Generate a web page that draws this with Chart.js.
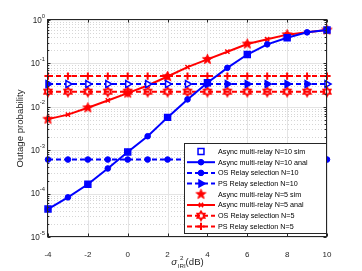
<!DOCTYPE html>
<html>
<head>
<meta charset="utf-8">
<script src="https://cdn.jsdelivr.net/npm/chart.js@4.4.1/dist/chart.umd.min.js"></script>
<style>
  html, body { margin: 0; padding: 0; background: #fff; }
  canvas { display: block; }
</style>
</head>
<body>
<canvas id="chart" width="362" height="271"></canvas>
<script>
// x axis: sigma^2_IRI in dB
const xValues = [-4, -3, -2, -1, 0, 1, 2, 3, 4, 5, 6, 7, 8, 9, 10];
const simX = [-4, -2, 0, 2, 4, 6, 8, 10];
const xTicks = [-4, -2, 0, 2, 4, 6, 8, 10];
const yDecades = [0, -1, -2, -3, -4, -5];

// N = 10
const asyncN10Sim = [4.4e-5, 1.64e-4, 9.1e-4, 5.7e-3, 0.0357, 0.16, 0.39, 0.59];
const asyncN10Anal = [4.4e-5, 8.2e-5, 1.64e-4, 3.8e-4, 9.1e-4, 2.1e-3, 5.7e-3, 0.0148, 0.0357, 0.079, 0.16, 0.275, 0.39, 0.52, 0.59];
const osN10 = [6.1e-4, 6.1e-4, 6.1e-4, 6.1e-4, 6.1e-4, 6.1e-4, 6.1e-4, 6.1e-4, 6.1e-4, 6.1e-4, 6.1e-4, 6.1e-4, 6.1e-4, 6.1e-4, 6.1e-4];
const psN10 = [0.0334, 0.0334, 0.0334, 0.0334, 0.0334, 0.0334, 0.0334, 0.0334, 0.0334, 0.0334, 0.0334, 0.0334, 0.0334, 0.0334, 0.0334];

// N = 5
const asyncN5Sim = [5.2e-3, 9.5e-3, 0.0207, 0.05, 0.124, 0.28, 0.46, 0.59];
const asyncN5Anal = [5.2e-3, 6.6e-3, 9.5e-3, 0.014, 0.0207, 0.031, 0.05, 0.082, 0.124, 0.186, 0.28, 0.36, 0.46, 0.52, 0.59];
const osN5 = [0.0223, 0.0223, 0.0223, 0.0223, 0.0223, 0.0223, 0.0223, 0.0223, 0.0223, 0.0223, 0.0223, 0.0223, 0.0223, 0.0223, 0.0223];
const psN5 = [0.051, 0.051, 0.051, 0.051, 0.051, 0.051, 0.051, 0.051, 0.051, 0.051, 0.051, 0.051, 0.051, 0.051, 0.051];

const FONT = '"Liberation Sans", Arial, sans-serif';
const BLUE = '#0000ff';
const RED = '#ff0000';
const AXIS_INK = '#262626';
const DASH = [5, 3];

function pairs(xs, ys) {
  return xs.map((x, i) => ({ x, y: ys[i] }));
}

// star shaped markers (pentagram / hexagram) as small canvases
function starMarker(points, outer, inner, fill, lineWidth) {
  const size = Math.ceil(outer * 2 + lineWidth * 2);
  const c = document.createElement('canvas');
  c.width = size;
  c.height = size;
  const g = c.getContext('2d');
  g.translate(size / 2, size / 2);
  g.beginPath();
  for (let i = 0; i < points * 2; i++) {
    const r = i % 2 === 0 ? outer : inner;
    const a = -Math.PI / 2 + (i * Math.PI) / points;
    const px = r * Math.cos(a);
    const py = r * Math.sin(a);
    if (i === 0) g.moveTo(px, py);
    else g.lineTo(px, py);
  }
  g.closePath();
  g.lineJoin = 'miter';
  if (fill) {
    g.fillStyle = RED;
    g.fill();
  }
  g.strokeStyle = RED;
  g.lineWidth = lineWidth;
  g.stroke();
  return c;
}

const pentagram = starMarker(5, 5.2, 2.1, true, 1);
const hexagram = starMarker(6, 4.2, 2.5, false, 1.8);

// triangles on the PS N=10 line: some look filled, some open in the reference
const psN10Fill = [BLUE, '#fff', '#fff', '#fff', '#fff', '#fff', '#fff', '#fff', BLUE, BLUE, BLUE, BLUE, BLUE, BLUE, '#fff'];

const datasets = [
  {
    label: 'Async multi-relay N=10 sim',
    data: pairs(simX, asyncN10Sim),
    showLine: false,
    borderColor: BLUE,
    pointStyle: 'rect',
    pointRadius: 4.2,
    pointBorderWidth: 1.5,
    pointBorderColor: BLUE,
    pointBackgroundColor: 'rgba(0,0,0,0)',
  },
  {
    label: 'Async multi-relay N=10 anal',
    data: pairs(xValues, asyncN10Anal),
    borderColor: BLUE,
    borderWidth: 2,
    pointStyle: 'circle',
    pointRadius: 2.8,
    pointBorderWidth: 1,
    pointBorderColor: BLUE,
    pointBackgroundColor: BLUE,
  },
  {
    label: 'OS Relay selection N=10',
    data: pairs(xValues, osN10),
    borderColor: BLUE,
    borderWidth: 2,
    borderDash: DASH,
    pointStyle: 'circle',
    pointRadius: 2.8,
    pointBorderWidth: 1,
    pointBorderColor: BLUE,
    pointBackgroundColor: BLUE,
  },
  {
    label: 'PS Relay selection N=10',
    data: pairs(xValues, psN10),
    borderColor: BLUE,
    borderWidth: 2,
    borderDash: DASH,
    pointStyle: 'triangle',
    pointRotation: 90,
    pointRadius: 4,
    pointBorderWidth: 1.5,
    pointBorderColor: BLUE,
    pointBackgroundColor: psN10Fill,
  },
  {
    label: 'Async multi-relay N=5 sim',
    data: pairs(simX, asyncN5Sim),
    showLine: false,
    borderColor: RED,
    pointStyle: pentagram,
  },
  {
    label: 'Async multi-relay N=5 anal',
    data: pairs(xValues, asyncN5Anal),
    borderColor: RED,
    borderWidth: 2,
    pointStyle: 'crossRot',
    pointRadius: 3,
    pointBorderWidth: 1.5,
    pointBorderColor: RED,
    pointBackgroundColor: RED,
  },
  {
    label: 'OS Relay selection N=5',
    data: pairs(xValues, osN5),
    borderColor: RED,
    borderWidth: 2,
    borderDash: DASH,
    pointStyle: hexagram,
  },
  {
    label: 'PS Relay selection N=5',
    data: pairs(xValues, psN5),
    borderColor: RED,
    borderWidth: 2,
    borderDash: DASH,
    pointStyle: 'cross',
    pointRadius: 3.6,
    pointBorderWidth: 2,
    pointBorderColor: RED,
    pointBackgroundColor: RED,
  },
];

datasets.forEach((ds) => {
  ds.clip = false;
  ds.tension = 0;
  ds.fill = false;
  ds.pointHoverRadius = ds.pointRadius;
});

function crisp(v) {
  return Math.round(v) + 0.5;
}

// MATLAB-like axes: grid, box, ticks, labels and legend
const matlabAxes = {
  id: 'matlabAxes',
  beforeDatasetsDraw(chart) {
    const { ctx, chartArea: a, scales } = chart;
    const xs = scales.x;
    const ys = scales.y;
    ctx.save();
    ctx.fillStyle = '#fff';
    ctx.fillRect(a.left, a.top, a.right - a.left, a.bottom - a.top);
    ctx.lineWidth = 1;

    // minor y grid (dotted)
    ctx.strokeStyle = 'rgba(0,0,0,0.16)';
    ctx.setLineDash([1, 2]);
    yDecades.slice(1).forEach((d) => {
      for (let m = 2; m <= 9; m++) {
        const py = crisp(ys.getPixelForValue(m * Math.pow(10, d)));
        ctx.beginPath();
        ctx.moveTo(a.left, py);
        ctx.lineTo(a.right, py);
        ctx.stroke();
      }
    });

    // major grid
    ctx.setLineDash([]);
    ctx.strokeStyle = '#e4e4e4';
    yDecades.forEach((d) => {
      const py = crisp(ys.getPixelForValue(Math.pow(10, d)));
      ctx.beginPath();
      ctx.moveTo(a.left, py);
      ctx.lineTo(a.right, py);
      ctx.stroke();
    });
    xTicks.forEach((t) => {
      const px = crisp(xs.getPixelForValue(t));
      ctx.beginPath();
      ctx.moveTo(px, a.top);
      ctx.lineTo(px, a.bottom);
      ctx.stroke();
    });
    ctx.restore();
  },

  afterDatasetsDraw(chart) {
    const { ctx, chartArea: a, scales } = chart;
    const xs = scales.x;
    const ys = scales.y;
    ctx.save();
    ctx.strokeStyle = AXIS_INK;
    ctx.lineWidth = 1;

    // box
    const L = crisp(a.left) - 1;
    const R = crisp(a.right) - 1;
    const T = crisp(a.top) - 1;
    const B = crisp(a.bottom) - 1;
    ctx.strokeRect(L, T, R - L, B - T);

    // ticks (inward)
    ctx.beginPath();
    xTicks.forEach((t) => {
      const px = crisp(xs.getPixelForValue(t));
      ctx.moveTo(px, B);
      ctx.lineTo(px, B - 3);
      ctx.moveTo(px, T);
      ctx.lineTo(px, T + 3);
    });
    yDecades.forEach((d) => {
      const py = crisp(ys.getPixelForValue(Math.pow(10, d)));
      ctx.moveTo(L, py);
      ctx.lineTo(L + 3, py);
      ctx.moveTo(R, py);
      ctx.lineTo(R - 3, py);
      if (d === 0) return;
      for (let m = 2; m <= 9; m++) {
        const my = crisp(ys.getPixelForValue(m * Math.pow(10, d)));
        ctx.moveTo(L, my);
        ctx.lineTo(L + 1.8, my);
        ctx.moveTo(R, my);
        ctx.lineTo(R - 1.8, my);
      }
    });
    ctx.stroke();

    drawLegend(chart);
    ctx.restore();
  },

  afterDraw(chart) {
    const { ctx, chartArea: a, scales } = chart;
    const ys = scales.y;
    ctx.save();
    ctx.fillStyle = AXIS_INK;

    // y tick labels 10^d
    ctx.textBaseline = 'middle';
    yDecades.forEach((d) => {
      const py = ys.getPixelForValue(Math.pow(10, d));
      const exp = String(d);
      ctx.font = `5.8px ${FONT}`;
      const ew = ctx.measureText(exp).width;
      const right = a.left - 3;
      ctx.textAlign = 'left';
      ctx.fillText(exp, right - ew, py - 4);
      ctx.font = `8.2px ${FONT}`;
      ctx.textAlign = 'right';
      ctx.fillText('10', right - ew, py + 0.5);
    });

    // y title
    ctx.save();
    ctx.translate(20, (a.top + a.bottom) / 2);
    ctx.rotate(-Math.PI / 2);
    ctx.textAlign = 'center';
    ctx.textBaseline = 'middle';
    ctx.font = `9.6px ${FONT}`;
    ctx.fillText('Outage probability', 0, 0);
    ctx.restore();

    // x title: sigma^2_IRI (dB)
    const parts = [
      { t: '\u03c3', font: `italic 9.8px ${FONT}` },
      { t: '2', font: `6.2px ${FONT}`, dy: -5 },
      { t: 'IRI', font: `6.2px ${FONT}`, dy: 3 },
      { t: '(dB)', font: `9.6px ${FONT}` },
    ];
    const widths = parts.map((p) => {
      ctx.font = p.font;
      return ctx.measureText(p.t).width;
    });
    const total = widths[0] + widths[2] + widths[3] + 0.5;
    let cx = (a.left + a.right) / 2 - total / 2;
    const base = 265;
    ctx.textAlign = 'left';
    ctx.textBaseline = 'alphabetic';
    ctx.font = parts[0].font;
    ctx.fillText(parts[0].t, cx, base);
    cx += widths[0] + 0.5;
    ctx.font = parts[1].font;
    ctx.fillText(parts[1].t, cx + (widths[2] - widths[1]) / 2, base + parts[1].dy);
    ctx.font = parts[2].font;
    ctx.fillText(parts[2].t, cx, base + parts[2].dy);
    cx += widths[2];
    ctx.font = parts[3].font;
    ctx.fillText(parts[3].t, cx, base);
    ctx.restore();
  },
};

function drawLegend(chart) {
  const ctx = chart.ctx;
  const box = { left: 184.5, top: 143.5, right: 326.5, bottom: 233.5 };
  ctx.save();
  ctx.setLineDash([]);
  ctx.fillStyle = '#fff';
  ctx.fillRect(box.left, box.top, box.right - box.left, box.bottom - box.top);
  ctx.strokeStyle = AXIS_INK;
  ctx.lineWidth = 1;
  ctx.strokeRect(box.left, box.top, box.right - box.left, box.bottom - box.top);

  const rowH = 10.7;
  chart.data.datasets.forEach((ds, i) => {
    const cy = box.top + 8 + i * rowH;
    if (ds.showLine !== false) {
      ctx.save();
      ctx.strokeStyle = ds.borderColor;
      ctx.lineWidth = ds.borderWidth;
      ctx.setLineDash(ds.borderDash || []);
      ctx.beginPath();
      ctx.moveTo(187, cy);
      ctx.lineTo(215, cy);
      ctx.stroke();
      ctx.restore();
    }
    ctx.save();
    ctx.setLineDash([]);
    ctx.strokeStyle = ds.pointBorderColor || ds.borderColor;
    ctx.fillStyle = Array.isArray(ds.pointBackgroundColor) ? ds.borderColor : (ds.pointBackgroundColor || ds.borderColor);
    ctx.lineWidth = ds.pointBorderWidth || 1;
    Chart.helpers.drawPoint(ctx, {
      pointStyle: ds.pointStyle,
      radius: ds.pointRadius || 3,
      rotation: ds.pointRotation || 0,
      borderWidth: ds.pointBorderWidth || 1,
    }, 201, cy);
    ctx.restore();

    ctx.fillStyle = '#000';
    ctx.font = `7.2px ${FONT}`;
    ctx.textAlign = 'left';
    ctx.textBaseline = 'middle';
    ctx.fillText(ds.label, 218, cy + 0.5);
  });
  ctx.restore();
}

new Chart(document.getElementById('chart'), {
  type: 'line',
  data: { datasets },
  options: {
    responsive: false,
    animation: false,
    events: [],
    layout: { padding: { left: 0, right: 35, top: 20, bottom: 0 } },
    plugins: {
      legend: { display: false },
      tooltip: { enabled: false },
    },
    scales: {
      x: {
        type: 'linear',
        min: -4,
        max: 10,
        grid: { display: false },
        border: { display: false },
        afterBuildTicks(scale) {
          scale.ticks = xTicks.map((v) => ({ value: v }));
        },
        afterFit(scale) {
          scale.height = 34;
        },
        ticks: {
          color: AXIS_INK,
          font: { family: FONT, size: 8 },
          padding: 5,
          maxRotation: 0,
          autoSkip: false,
        },
      },
      y: {
        type: 'logarithmic',
        min: 1e-5,
        max: 1,
        grid: { display: false },
        border: { display: false },
        ticks: { display: false },
        afterFit(scale) {
          scale.width = 48;
        },
      },
    },
  },
  plugins: [matlabAxes],
});
</script>
</body>
</html>
